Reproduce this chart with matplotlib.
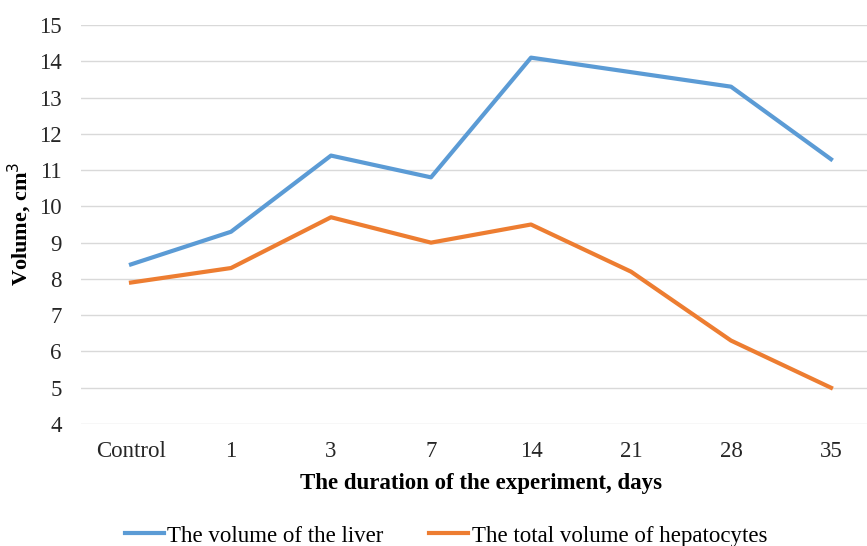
import matplotlib
matplotlib.use("Agg")
import matplotlib.pyplot as plt

categories = ["Control", "1", "3", "7", "14", "21", "28", "35"]
liver = [8.4, 9.3, 11.4, 10.8, 14.1, 13.7, 13.3, 11.3]
hepatocytes = [7.9, 8.3, 9.7, 9.0, 9.5, 8.2, 6.3, 5.0]
yticks = list(range(4, 16))

plt.rcParams['font.family'] = ['Liberation Serif', 'DejaVu Serif']

W, H = 867, 546
fig = plt.figure(figsize=(W / 100, H / 100), dpi=100)
ax = fig.add_axes([81 / W, 1 - 424 / H, 800 / W, 399 / H])

x = list(range(len(categories)))
ax.plot(x, liver, color="#5B9BD5", lw=3, label="The volume of the liver", solid_joinstyle="round")
ax.plot(x, hepatocytes, color="#ED7D31", lw=3, label="The total volume of hepatocytes", solid_joinstyle="round")

ax.set_xlim(-0.5, len(categories) - 0.5)
ax.set_ylim(4, 15)
ax.set_yticks(yticks)
ax.set_xticks(x)
ax.set_xticklabels(categories)
ax.tick_params(axis="both", length=0, labelsize=16.5, colors="#262626")
ax.tick_params(axis="y", pad=14)
ax.tick_params(axis="x", pad=12)
ax.grid(axis="y", color="#D9D9D9", lw=1)
ax.set_axisbelow(True)
for s in ax.spines.values():
    s.set_visible(False)

fig.text(20 / W, 1 - 224 / H, "Volume, cm$^3$", fontsize=16, fontweight="bold",
         rotation=90, ha="center", va="center")
fig.text(481 / W, 1 - 483 / H, "The duration of the experiment, days", fontsize=16.5,
         fontweight="bold", ha="center", va="center")

fig.legend(loc="center", bbox_to_anchor=(446 / W, 1 - 536 / H), ncol=2, frameon=False,
           fontsize=16.5, handlelength=1.7, columnspacing=2.0, handletextpad=0.15)

fig.savefig("out.png", dpi=100)
